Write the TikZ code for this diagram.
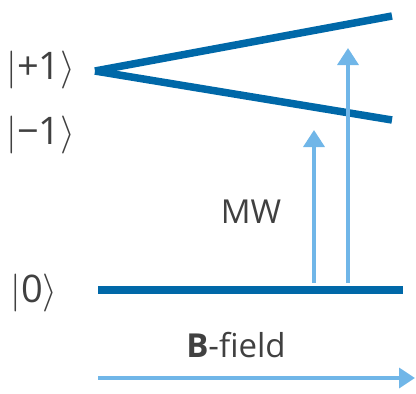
\documentclass[tikz,border=0pt]{standalone}
\usepackage{fix-cm}
\usepackage{fontspec}
\setmainfont{Open Sans}
\usetikzlibrary{arrows.meta}
\definecolor{levelblue}{RGB}{0,104,168}
\definecolor{mwblue}{RGB}{112,182,232}
\definecolor{labelgray}{RGB}{64,64,64}
\newcommand{\ketlabel}[1]{$|$#1$\rangle$}

\begin{document}
\begin{tikzpicture}[x=1pt,y=-1pt,
    level/.style={levelblue, line width=7.5pt},
    mwarrow/.style={mwblue, line width=3.5pt, -{Triangle[length=17pt,width=21pt]}},
    fieldarrow/.style={mwblue, line width=3.5pt, -{Triangle[length=16pt,width=20pt]}},
    ketnode/.style={labelgray, inner sep=0pt, font=\fontsize{38}{44}\selectfont},
    textnode/.style={labelgray, inner sep=0pt, font=\fontsize{33}{38}\selectfont}]
    \useasboundingbox (0,0) rectangle (416,394);
    % Energy levels
    \coordinate (apex) at (95,71);
    \coordinate (plusend) at (392,16);
    \coordinate (minusend) at (392,120);
    \coordinate (zerostart) at (98,290);
    \coordinate (zeroend) at (403,290);
    \draw[level] (apex) -- (plusend);
    \draw[level] (apex) -- (minusend);
    \draw[level] (zerostart) -- (zeroend);
    % Microwave transitions
    \coordinate (mwlowfoot) at (314,283);
    \coordinate (mwlowtip) at (314,130);
    \coordinate (mwhighfoot) at (348,283);
    \coordinate (mwhightip) at (348,48);
    \draw[mwarrow] (mwlowfoot) -- (mwlowtip);
    \draw[mwarrow] (mwhighfoot) -- (mwhightip);
    % Field direction
    \coordinate (fieldstart) at (98,378);
    \coordinate (fieldend) at (415,378);
    \draw[fieldarrow] (fieldstart) -- (fieldend);
    % Labels
    \node[ketnode] (ketplus) at (41,70) {\ketlabel{+1}};
    \node[ketnode] (ketminus) at (41,135) {\ketlabel{−1}};
    \node[ketnode] (ketzero) at (34,293) {\ketlabel{0}};
    \node[textnode] (mwlabel) at (251,212) {MW};
    \node[textnode] (fieldlabel) at (236,345) {\textbf{B}-field};
\end{tikzpicture}
\end{document}
